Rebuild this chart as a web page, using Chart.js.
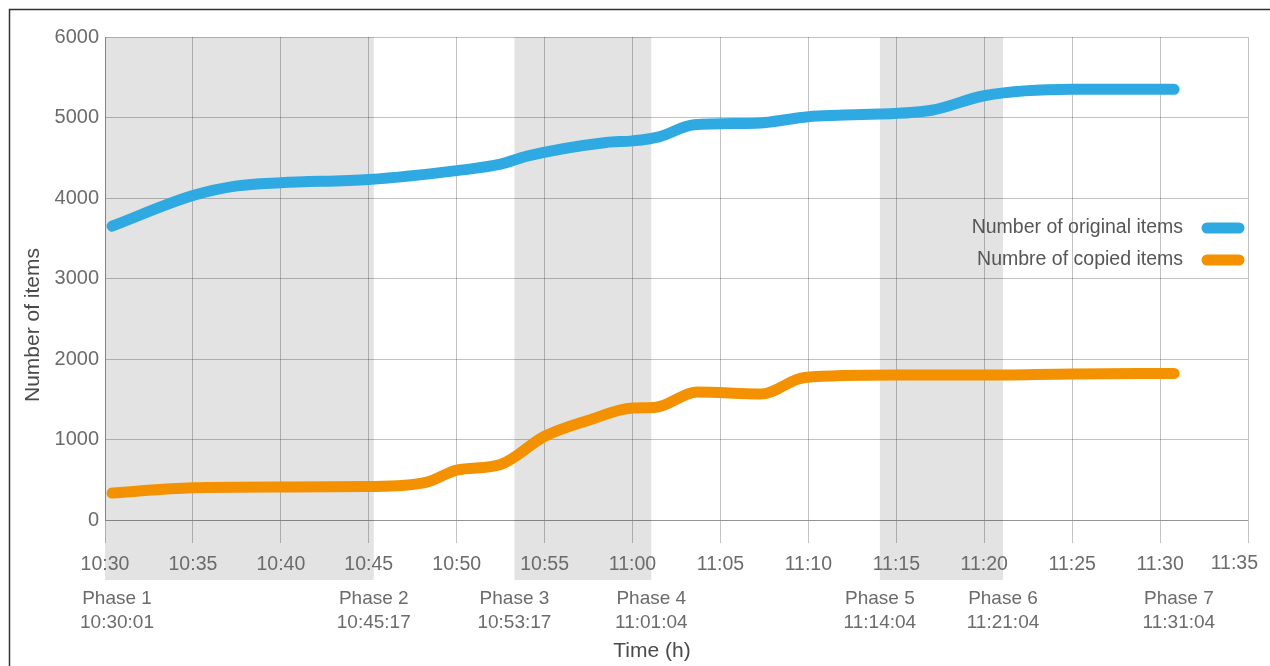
<!DOCTYPE html>
<html>
<head>
<meta charset="utf-8">
<title>Number of items</title>
<script src="https://cdn.jsdelivr.net/npm/chart.js@4.4.1/dist/chart.umd.min.js"></script>
<style>
  html, body { margin: 0; padding: 0; background: #fff; }
  #wrap { width: 1270px; height: 666px; position: relative; }
</style>
</head>
<body>
<div id="wrap"><canvas id="chart"></canvas></div>
<script>
// values
const originalTimes = ["10:30:24", "10:35:00", "10:37:30", "10:40:00", "10:45:00", "10:50:00", "10:52:30",
  "10:54:00", "10:58:30", "11:00:00", "11:01:30", "11:03:30", "11:07:00", "11:10:00", "11:12:00",
  "11:17:00", "11:20:00", "11:25:00", "11:30:48"];
const originalItems = [3650, 4030, 4150, 4190, 4230, 4340, 4420,
  4520, 4690, 4710, 4760, 4910, 4930, 5010, 5030,
  5090, 5270, 5350, 5350];

const copiedTimes = ["10:30:24", "10:35:00", "10:40:00", "10:45:00", "10:48:18", "10:50:00", "10:52:30",
  "10:55:00", "10:57:30", "11:00:00", "11:01:20", "11:03:40", "11:07:18", "11:09:48", "11:15:00",
  "11:20:00", "11:25:00", "11:30:48"];
const copiedItems = [335, 400, 410, 415, 470, 620, 690,
  1040, 1240, 1390, 1400, 1590, 1565, 1770, 1800,
  1800, 1815, 1820];

const phaseNames = ["Phase 1", "Phase 2", "Phase 3", "Phase 4", "Phase 5", "Phase 6", "Phase 7"];
const phaseTimes = ["10:30:01", "10:45:17", "10:53:17", "11:01:04", "11:14:04", "11:21:04", "11:31:04"];
// shaded bands: [start phase, end phase]
const bands = [[0, 1], [2, 3], [4, 5]];

const seriesNames = ["Number of original items", "Numbre of copied items"];
const seriesColors = ["#2ea9e1", "#f39100"];
const xTitle = "Time (h)";
const yTitle = "Number of items";

const startTime = "10:30:00";
const endTime = "11:35:00";

const toMin = (t) => {
  const [h, m, s] = t.split(":").map(Number);
  const [h0, m0] = startTime.split(":").map(Number);
  return (h * 60 + m + s / 60) - (h0 * 60 + m0);
};
const fmt = (v) => {
  const [h0, m0] = startTime.split(":").map(Number);
  const total = h0 * 60 + m0 + v;
  return Math.floor(total / 60) + ":" + String(Math.round(total % 60)).padStart(2, "0");
};

const FONT = "'Liberation Sans', Arial, sans-serif";
const textColor = "#6b6b6b";
const titleColor = "#4a4a4a";
const gridColor = "rgba(0,0,0,0.24)";

const pointsOf = (times, vals) => times.map((t, i) => ({ x: toMin(t), y: vals[i] }));

const decorPlugin = {
  id: "decor",
  beforeDraw(chart) {
    const { ctx, chartArea, scales } = chart;
    const xs = scales.x;
    ctx.save();
    // grey phase bands, running down under the tick labels
    ctx.fillStyle = "#e3e3e3";
    bands.forEach(([a, b]) => {
      const x1 = a === 0 ? chartArea.left : xs.getPixelForValue(toMin(phaseTimes[a]));
      const x2 = xs.getPixelForValue(toMin(phaseTimes[b]));
      ctx.fillRect(x1, chartArea.top, x2 - x1, chartArea.bottom + 60 - chartArea.top);
    });
    // frame on top and left
    ctx.strokeStyle = "#333";
    ctx.lineWidth = 1.5;
    ctx.beginPath();
    ctx.moveTo(9.5, chart.height);
    ctx.lineTo(9.5, 9.5);
    ctx.lineTo(chart.width, 9.5);
    ctx.stroke();
    ctx.restore();
  },
  afterDraw(chart) {
    const { ctx, chartArea, scales } = chart;
    const xs = scales.x;
    ctx.save();
    ctx.textBaseline = "middle";
    // last x tick label is pulled in so it stays on the page
    ctx.fillStyle = textColor;
    ctx.font = "19.5px " + FONT;
    ctx.textAlign = "right";
    ctx.fillText(fmt(xs.max), xs.getPixelForValue(xs.max) + 10, chartArea.bottom + 44);
    // phase labels under the axis
    ctx.font = "19px " + FONT;
    ctx.textAlign = "center";
    phaseNames.forEach((name, i) => {
      let x = xs.getPixelForValue(toMin(phaseTimes[i]));
      x = Math.max(x, chartArea.left + 12);
      ctx.fillText(name, x, chartArea.bottom + 79);
      ctx.fillText(phaseTimes[i], x, chartArea.bottom + 103);
    });
    // axis titles (sit a little off-centre in the original)
    ctx.fillStyle = titleColor;
    ctx.font = "21px " + FONT;
    ctx.fillText(xTitle, 652, chartArea.bottom + 131);
    ctx.save();
    ctx.translate(33, 325);
    ctx.rotate(-Math.PI / 2);
    ctx.fillText(yTitle, 0, 0);
    ctx.restore();
    // legend inside the plot
    ctx.textAlign = "right";
    ctx.font = "19.5px " + FONT;
    chart.data.datasets.forEach((ds, i) => {
      const y = chartArea.top + 191 + i * 32;
      const right = chartArea.right - 3;
      ctx.fillStyle = "#555";
      ctx.fillText(ds.label, right - 62, y);
      ctx.strokeStyle = ds.borderColor;
      ctx.lineWidth = 11;
      ctx.lineCap = "round";
      ctx.beginPath();
      ctx.moveTo(right - 38, y);
      ctx.lineTo(right - 6, y);
      ctx.stroke();
    });
    ctx.restore();
  }
};

new Chart(document.getElementById("chart"), {
  type: "line",
  data: {
    datasets: [
      {
        label: seriesNames[0],
        data: pointsOf(originalTimes, originalItems),
        borderColor: seriesColors[0],
        backgroundColor: seriesColors[0],
      },
      {
        label: seriesNames[1],
        data: pointsOf(copiedTimes, copiedItems),
        borderColor: seriesColors[1],
        backgroundColor: seriesColors[1],
      },
    ],
  },
  options: {
    responsive: true,
    maintainAspectRatio: false,
    animation: false,
    layout: { padding: { left: 0, right: 22, top: 37, bottom: 0 } },
    elements: {
      line: { borderWidth: 11, borderCapStyle: "round", borderJoinStyle: "round", cubicInterpolationMode: "monotone" },
      point: { radius: 0, hoverRadius: 0 },
    },
    plugins: {
      legend: { display: false },
      tooltip: { enabled: false },
    },
    scales: {
      x: {
        type: "linear",
        min: 0,
        max: toMin(endTime),
        afterFit: (s) => { s.height = 146; s.paddingLeft = 0; s.paddingRight = 0; },
        ticks: {
          stepSize: 5,
          // the last one is drawn by the plugin, shifted left
          callback: (v) => (v === toMin(endTime) ? "" : fmt(v)),
          color: textColor,
          font: { family: FONT, size: 19.5 },
          padding: 10,
          maxRotation: 0,
        },
        grid: { color: gridColor, tickLength: 23, tickColor: gridColor },
        border: { color: gridColor },
      },
      y: {
        min: 0,
        max: 6000,
        afterFit: (s) => { s.width = 105; s.paddingTop = 0; s.paddingBottom = 0; },
        ticks: {
          stepSize: 1000,
          callback: (v) => String(v),
          color: textColor,
          font: { family: FONT, size: 20 },
          padding: 6,
        },
        grid: { color: gridColor, drawTicks: false },
        border: { color: gridColor },
      },
    },
  },
  plugins: [decorPlugin],
});
</script>
</body>
</html>
